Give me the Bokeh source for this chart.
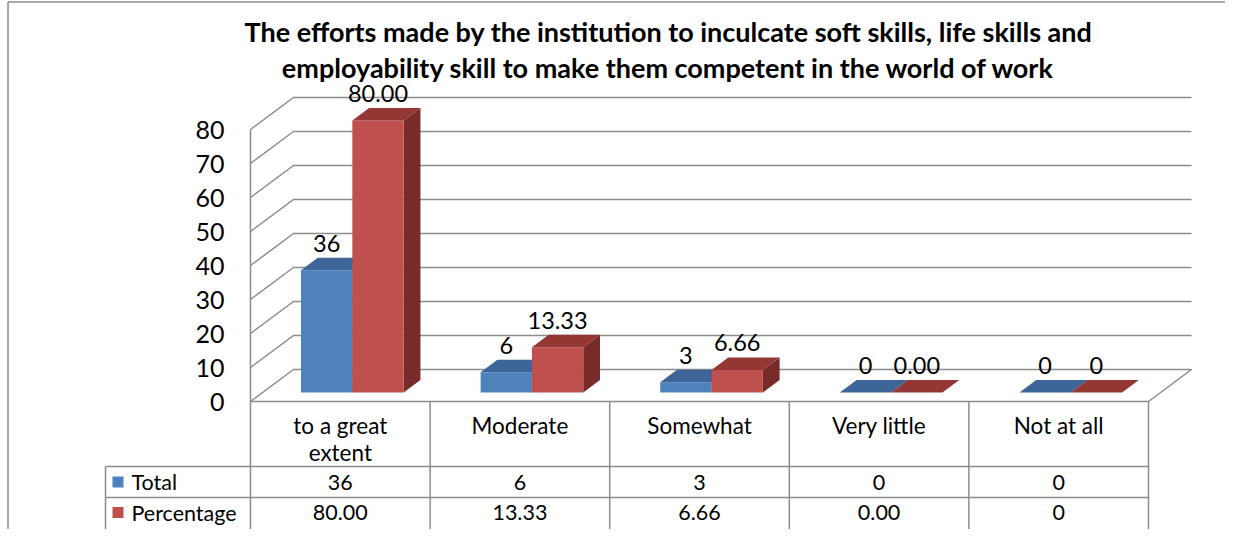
from bokeh.plotting import figure
from bokeh.models import Range1d
from bokeh.core.properties import value
from bokeh.embed import file_html
from bokeh.resources import INLINE

# ---------------- data ----------------
title_lines = [
    "The efforts made by the institution to inculcate soft skills, life skills and",
    "employability skill to make them competent in the world of work",
]
categories = ["to a great extent", "Moderate", "Somewhat", "Very little", "Not at all"]
category_lines = [["to a great", "extent"], ["Moderate"], ["Somewhat"], ["Very little"], ["Not at all"]]
series_names = ["Total", "Percentage"]
total = [36, 6, 3, 0, 0]
percentage = [80.00, 13.33, 6.66, 0.00, 0]
total_labels = ["36", "6", "3", "0", "0"]
percentage_labels = ["80.00", "13.33", "6.66", "0.00", "0"]
y_ticks = [0, 10, 20, 30, 40, 50, 60, 70, 80]

# ---------------- layout / style ----------------
W, H = 1225, 529
X0_PX, CAT_PX = 250, 179.6   # left edge of category area, px per category
Y0_PX, VAL_PX = 401, 3.4     # baseline px, px per unit
FONT = value("Lato")
GRID = "#8c8c8c"

def X(px):  # canvas px -> data x
    return (px - X0_PX) / CAT_PX

def Y(py):  # canvas px -> data y
    return (Y0_PX - py) / VAL_PX

DX, DY = 43 / CAT_PX, 32 / VAL_PX   # floor depth offset
D0, D1 = 0.28, 0.67                  # bar front/back depth
BW = 1 / 3.5                         # bar width (gap 150%)

p = figure(width=W, height=H, output_backend="svg", toolbar_location=None,
           x_range=Range1d(X(0), X(W)), y_range=Range1d(Y(H), Y(0)),
           x_axis_type=None, y_axis_type=None, min_border=0)
p.outline_line_color = None
p.grid.visible = False
p.background_fill_color = "white"

n = len(categories)

# outer chart border (left & top)
p.multi_line(xs=[[X(7.5), X(7.5)], [X(7.5), X(W)]],
             ys=[[Y(1.5), Y(H)], [Y(1.5), Y(1.5)]],
             line_color="#8c8c8c", line_width=1.5)

# walls: left-wall diagonals + back-wall gridlines
gx, gy = [], []
for t in y_ticks:
    gx.append([0, DX, n + DX])
    gy.append([t, t + DY, t + DY])
gx.append([0, 0]); gy.append([0, y_ticks[-1]])       # front vertical axis line
gx.append([n, n + DX]); gy.append([0, DY])           # floor right edge
p.multi_line(xs=gx, ys=gy, line_color=GRID, line_width=1.5)

# y tick labels
p.text(x=[X(224)] * len(y_ticks), y=y_ticks, text=[str(t) for t in y_ticks],
       text_font=FONT, text_font_size="25px", text_align="right",
       text_baseline="middle", text_color="black")

# ---------------- 3D bars ----------------
series = [
    (total, total_labels, "#4F81BD", "#3D6597", "#385D8A", -BW),
    (percentage, percentage_labels, "#C0504D", "#943634", "#772C2A", 0.0),
]
for vals, labs, c_front, c_top, c_side, off in series:
    fx, fy, tx, ty, sx, sy = [], [], [], [], [], []
    lx, ly = [], []
    for i, h in enumerate(vals):
        x0 = i + 0.5 + off
        x1 = x0 + BW
        ax0, ay0 = DX * D0, DY * D0
        ax1, ay1 = DX * D1, DY * D1
        fx.append([x0 + ax0, x1 + ax0, x1 + ax0, x0 + ax0])
        fy.append([ay0, ay0, h + ay0, h + ay0])
        tx.append([x0 + ax0, x1 + ax0, x1 + ax1, x0 + ax1])
        ty.append([h + ay0, h + ay0, h + ay1, h + ay1])
        sx.append([x1 + ax0, x1 + ax1, x1 + ax1, x1 + ax0])
        sy.append([ay0, ay1, h + ay1, h + ay0])
        lx.append((x0 + x1) / 2 + ax0)
        ly.append(h + ay1 + 4.3)
    p.patches(xs=sx, ys=sy, fill_color=c_side, line_color=None)
    p.patches(xs=fx, ys=fy, fill_color=c_front, line_color=None)
    p.patches(xs=tx, ys=ty, fill_color=c_top, line_color=None)
    p.text(x=lx, y=ly, text=labs, text_font=FONT, text_font_size="23.5px",
           text_align="center", text_baseline="middle", text_color="black")

# ---------------- data table ----------------
row_lines = [466, 497]          # horizontal separators (px)
row_y = [481.5, 512]            # text centers of the two data rows (px)
tab_x, tab_y = [], []
tab_x.append([0, n]); tab_y.append([0, 0])                    # top edge (floor front)
for i in range(n + 1):                                         # column verticals
    tab_x.append([i, i]); tab_y.append([0, Y(H + 5)])
for py in row_lines:                                           # row lines
    tab_x.append([X(105), n]); tab_y.append([Y(py), Y(py)])
tab_x.append([X(105), X(105)]); tab_y.append([Y(row_lines[0]), Y(H + 5)])  # legend column edge
p.multi_line(xs=tab_x, ys=tab_y, line_color=GRID, line_width=1.5)

# category labels
cx, cy, ct = [], [], []
for i, lines in enumerate(category_lines):
    for k, s in enumerate(lines):
        cx.append(i + 0.5); cy.append(Y(425 + 27 * k)); ct.append(s)
p.text(x=cx, y=cy, text=ct, text_font=FONT, text_font_size="22.5px",
       text_align="center", text_baseline="middle", text_color="black")

# legend keys + series names
key_colors = ["#4F81BD", "#C0504D"]
p.rect(x=[X(117.5)] * 2, y=[Y(py) for py in row_y], width=11 / CAT_PX, height=11 / VAL_PX,
       fill_color=key_colors, line_color=None)
p.text(x=[X(131)] * 2, y=[Y(py) for py in row_y], text=series_names, text_font=FONT,
       text_font_size="21.5px", text_align="left", text_baseline="middle", text_color="black")

# cell values
vx, vy, vt = [], [], []
for r, labs in enumerate([total_labels, percentage_labels]):
    for i, s in enumerate(labs):
        vx.append(i + 0.5); vy.append(Y(row_y[r])); vt.append(s)
p.text(x=vx, y=vy, text=vt, text_font=FONT, text_font_size="21.5px",
       text_align="center", text_baseline="middle", text_color="black")

# title
p.text(x=[X(668)] * 2, y=[Y(31), Y(67)], text=title_lines, text_font=FONT,
       text_font_size="27px", text_font_style="bold", text_align="center",
       text_baseline="middle", text_color="black")

open("out.html", "w").write(file_html(p, INLINE))
